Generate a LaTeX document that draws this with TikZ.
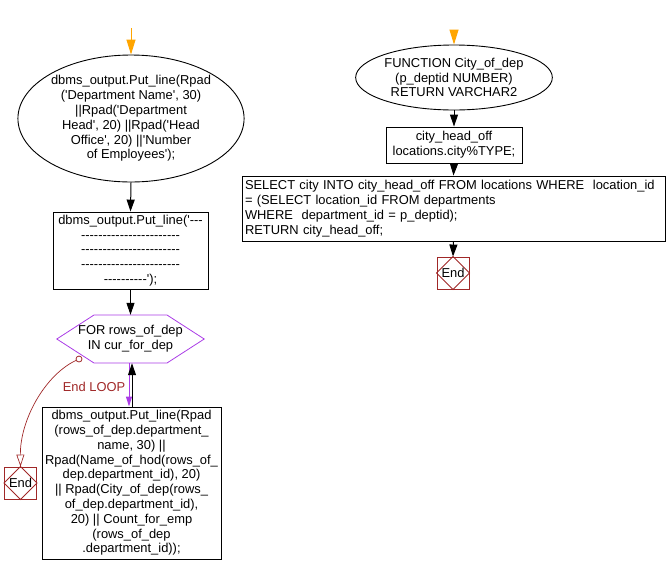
\documentclass[tikz,border=0pt]{standalone}
\usepackage{fontspec}
\setmainfont{Liberation Sans}[Ligatures=TeXOff]
\usetikzlibrary{arrows.meta,shapes.geometric}
\definecolor{orng}{RGB}{255,165,0}
\definecolor{dred}{RGB}{160,40,40}
\definecolor{purp}{RGB}{170,60,230}
\begin{document}
\begin{tikzpicture}[x=1pt,y=-1pt,
  every node/.style={font=\fontsize{12.9}{14.8}\selectfont, inner sep=0pt},
  ell/.style={ellipse, draw, line width=0.9pt, align=center},
  box/.style={rectangle, draw, line width=0.9pt, align=center},
  endbox/.style={rectangle, draw=dred, line width=0.9pt, minimum size=32},
  arr/.style={line width=1pt, -{Triangle[width=8pt,length=12pt]}},
  oarr/.style={orng, line width=1pt, -{Triangle[width=9pt,length=15pt]}},
  parr/.style={purp, line width=1pt, -{Triangle[width=6pt,length=10pt]}},
  openarr/.style={dred, line width=0.7pt, -{Triangle[open,width=8pt,length=12pt]}}
]
\useasboundingbox (0,0) rectangle (667,574);

% ---------- left column ----------
\coordinate (s1) at (131,28);
\node[ell, minimum width=208, minimum height=127] (e1) at (131,118.5)
  {dbms\_output.Put\_line(Rpad\\('Department Name', 30)\\||Rpad('Department\\Head', 20) ||Rpad('Head\\Office', 20) ||'Number\\of Employees');};
\node[box, minimum width=155, minimum height=77] (r1) at (130.5,250.5)
  {dbms\_output.Put\_line('---\\-----------------------\\-----------------------\\-----------------------\\----------');};
\node[minimum width=147, minimum height=48, align=center] (hx) at (130.5,339)
  {FOR rows\_of\_dep\\IN cur\_for\_dep};
\draw[purp, line width=0.8pt] (hx.west) -- (94,315) -- (167,315) -- (hx.east) -- (167,363) -- (94,363) -- cycle;
\node[box, minimum width=179, minimum height=152] (b1) at (131.5,483)
  {dbms\_output.Put\_line(Rpad\\(rows\_of\_dep.department\_\\name, 30) ||\\Rpad(Name\_of\_hod(rows\_of\_\\dep.department\_id), 20)\\|| Rpad(City\_of\_dep(rows\_\\of\_dep.department\_id),\\20) || Count\_for\_emp\\(rows\_of\_dep\\.department\_id));};
\node[endbox] (end1) at (20.5,483) {};
\draw[dred, line width=0.8pt] (end1.north) -- (end1.east) -- (end1.south) -- (end1.west) -- cycle;
\node at (end1) {End};
\node[circle, draw=dred, line width=0.8pt, minimum size=6] (c1) at (79,359) {};
\node[text=dred] (lbl) at (94,387) {End LOOP};

\draw[oarr] (s1) -- (e1.north);
\draw[arr] (e1.south) -- (r1.north);
\draw[arr] (r1.south) -- (hx.north);
\draw[parr] ([xshift=-1.5pt]hx.south) -- ([xshift=-1.5pt]hx.south |- b1.north);
\draw[arr] ([xshift=1.5pt]hx.south |- b1.north) -- ([xshift=1.5pt]hx.south);
\draw[openarr] (c1) .. controls (45,375) and (20,420) .. (end1.north);

% ---------- right column ----------
\coordinate (s2) at (454,30);
\node[ell, minimum width=164, minimum height=65] (e2) at (454,77.5)
  {FUNCTION City\_of\_dep\\(p\_deptid NUMBER)\\RETURN VARCHAR2};
\node[box, minimum width=136, minimum height=36] (r2) at (454,145)
  {city\_head\_off\\locations.city\%TYPE;};
\node[box, minimum width=423, minimum height=65, text width=417, align=left] (r3) at (453.5,208.5)
  {\mbox{SELECT city INTO city\_head\_off FROM locations WHERE\ \ location\_id}\\\mbox{= (SELECT location\_id FROM departments}\\\mbox{WHERE\ \ department\_id = p\_deptid);}\\\mbox{RETURN city\_head\_off;}};
\node[endbox] (end2) at (453,273) {};
\draw[dred, line width=0.8pt] (end2.north) -- (end2.east) -- (end2.south) -- (end2.west) -- cycle;
\node at (end2) {End};

\draw[oarr] (s2) -- (e2.north);
\draw[arr] (e2.south) -- (r2.north);
\draw[arr] (r2.south) -- (r3.north);
\draw[arr] (r3.south) -- (end2.north);
\end{tikzpicture}
\end{document}
